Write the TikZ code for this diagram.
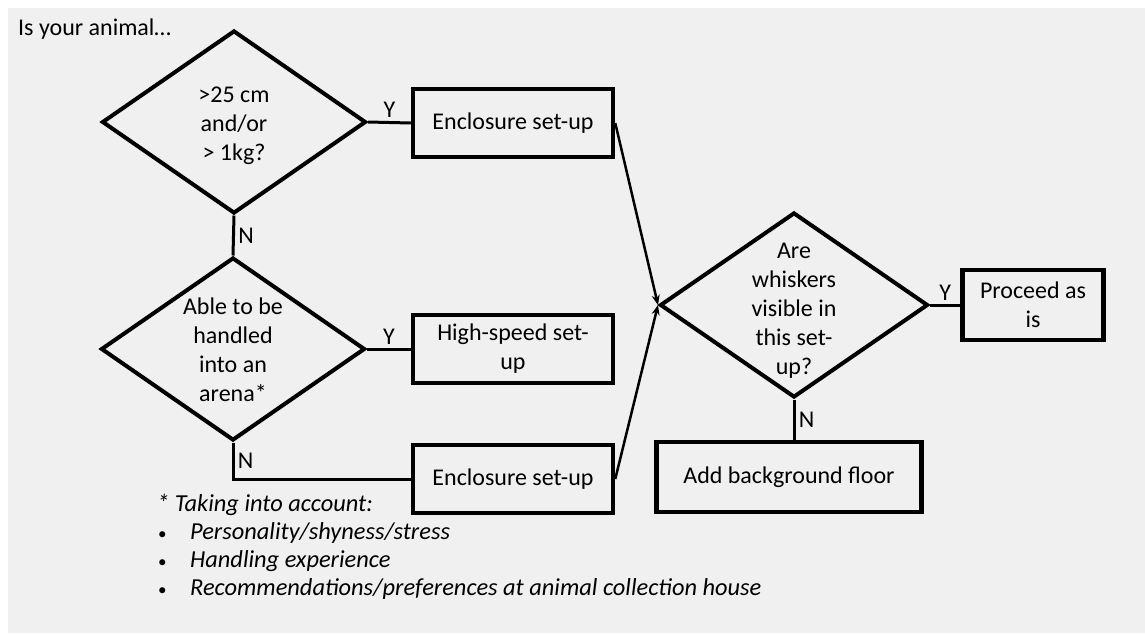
\documentclass[tikz,border=0pt]{standalone}
\usepackage{fontspec}
\setmainfont{Carlito}
\usetikzlibrary{shapes.geometric,arrows.meta}
\definecolor{panelgray}{RGB}{240,240,240}

\begin{document}
\begin{tikzpicture}[x=1pt,y=-1pt,
    font=\fontsize{24}{29}\selectfont,
    decision/.style={diamond,draw,line width=4pt,inner sep=0pt,
      minimum width=264pt,minimum height=183pt},
    qtext/.style={align=center,inner sep=0pt,yshift=-4pt},
    stepbox/.style={rectangle,draw,line width=4.5pt,align=center,inner sep=0pt,
      minimum width=200pt,minimum height=68pt},
    link/.style={line width=3pt},
    arrowline/.style={line width=2.5pt,-{Stealth[length=10pt,width=8pt]}}]
  \useasboundingbox (0,0) rectangle (1145,633);
  \fill[panelgray] (8,8) rectangle (1145,633);

  \node[anchor=west,inner sep=0pt] (intro) at (18,29) {Is your animal…};

  \node[decision] (q1) at (234,122)
    [label={[qtext]center:{>25 cm\\and/or\\> 1kg?}}] {};
  \node[decision] (q2) at (233,349)
    [label={[qtext,yshift=3pt]center:{Able to be\\handled\\into an\\arena*}}] {};
  \node[decision,minimum width=268pt,minimum height=185pt] (q3) at (794,305)
    [label={[qtext,yshift=-2pt]center:{Are\\whiskers\\visible in\\this set-\\up?}}] {};

  \node[stepbox] (encl) at (513,123) {Enclosure set-up};
  \node[stepbox] (speed) at (513,349) {High-speed set-\\up};
  \node[stepbox] (enclb) at (513,479) {Enclosure set-up};
  \node[stepbox,minimum width=141pt,minimum height=70pt] (proceed) at (1033,305) {Proceed as\\is};
  \node[stepbox,minimum width=265pt,minimum height=70pt] (floor) at (789,477) {Add background floor};

  \path[link]
  (q1.east) edge node[above] {Y} (encl.west)
  (q1.south) edge node[right] {N} (q2.north)
  (q2.east) edge node[above] {Y} (speed.west)
  (q3.east) edge node[above] {Y} (proceed.west)
  (q3.south) edge node[right] {N} (q3.south |- floor.north);
  \draw[link] (q2.south) |- node[near start,right] {N} (enclb.west);

  \path[arrowline]
  (encl.east) edge (q3.west)
  (enclb.east) edge (q3.west);

  \node[anchor=north west,align=left,inner sep=0pt,
    font=\fontsize{24.4}{28}\selectfont\itshape] (note) at (157,494)
    {* Taking into account:\\
     \hspace*{1pt}\makebox[32pt][l]{\upshape\scalebox{0.7}{\textbullet}}Personality/shyness/stress\\
     \hspace*{1pt}\makebox[32pt][l]{\upshape\scalebox{0.7}{\textbullet}}Handling experience\\
     \hspace*{1pt}\makebox[32pt][l]{\upshape\scalebox{0.7}{\textbullet}}Recommendations/preferences at animal collection house};
\end{tikzpicture}
\end{document}
